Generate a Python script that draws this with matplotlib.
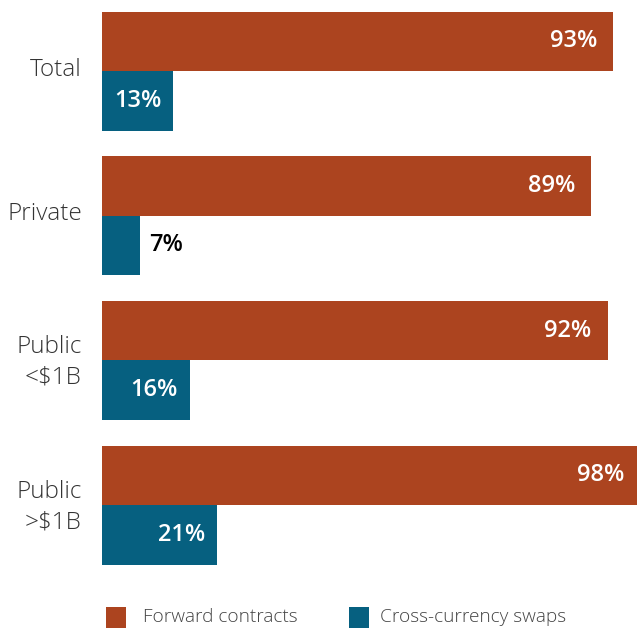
import matplotlib
matplotlib.use("Agg")
import matplotlib.pyplot as plt
from matplotlib.patches import Rectangle

plt.rcParams['font.family'] = ['Open Sans', 'DejaVu Sans']

categories = ["Total", "Private", "Public\n<$1B", "Public\n>$1B"]
forward = [93, 89, 92, 98]
swaps = [13, 7, 16, 21]
series_names = ["Forward contracts", "Cross-currency swaps"]

ORANGE = "#AC441F"
TEAL = "#066080"
TEXT = "#333333"

W, H = 637, 628
fig = plt.figure(figsize=(W / 100, H / 100), dpi=100)

# axes spans pixel x 102..637 and y 0..580
ax = fig.add_axes([102 / W, 1 - 580 / H, (W - 102) / W, 580 / H])
px_per_pct = (613 - 102) / 93.0
ax.set_xlim(0, (W - 102) / px_per_pct)
spacing = 144.67
ax.set_ylim((580 - 71) / spacing, -71 / spacing)
ax.axis("off")

h = 59.5 / spacing
ys = list(range(len(categories)))
ax.barh([y - h / 2 for y in ys], forward, height=h, color=ORANGE, linewidth=0)
ax.barh([y + h / 2 for y in ys], swaps, height=h, color=TEAL, linewidth=0)

label_kw = dict(va="center", fontsize=17, fontweight="semibold")
for y, v in zip(ys, forward):
    ax.text(v - 16 / px_per_pct, y - h / 2, f"{v}%", ha="right", color="white", **label_kw)
for y, v in zip(ys, swaps):
    if v >= 10:
        ax.text(v - 12 / px_per_pct, y + h / 2, f"{v}%", ha="right", color="white", **label_kw)
    else:
        ax.text(v + 9 / px_per_pct, y + h / 2, f"{v}%", ha="left", color="black", **label_kw)

for y, c in zip(ys, categories):
    dy = 0.015 if "\n" in c else -0.01
    ax.text(-20 / px_per_pct, y + dy, c, ha="right", va="center", color=TEXT,
            fontsize=17.5, fontweight="light", linespacing=1.35, clip_on=False)

# legend
legend_items = [(106, 143, ORANGE, series_names[0]), (349, 380, TEAL, series_names[1])]
for x0, tx, col, name in legend_items:
    fig.patches.append(Rectangle((x0 / W, 1 - 628 / H), 20 / W, 21 / H,
                                 transform=fig.transFigure, color=col, linewidth=0))
    fig.text(tx / W, 1 - 617 / H, name, ha="left", va="center",
             color="#444444", fontsize=13.7, fontweight="light")

fig.savefig("out.png", dpi=100)
